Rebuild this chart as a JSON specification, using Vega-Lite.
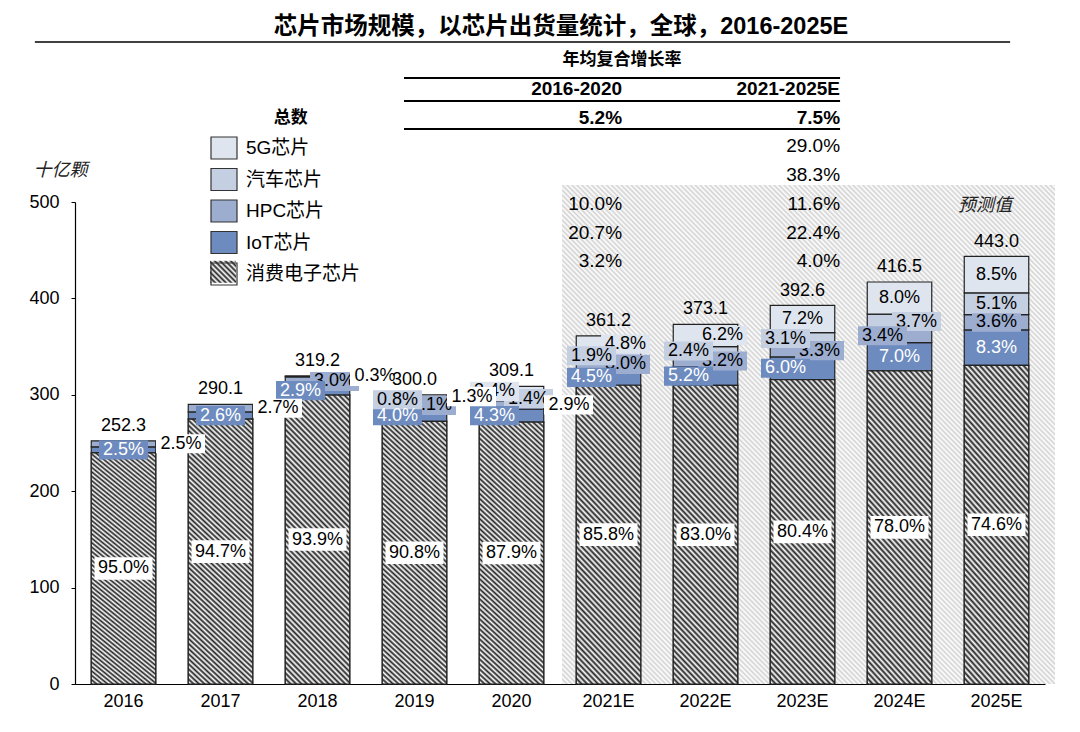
{
"$schema":"https://vega.github.io/schema/vega-lite/v6.json",
"width":970,"height":482,
"autosize":{"type":"none"},
"padding":{"left":75,"top":202,"right":35,"bottom":48},
"background":"#ffffff",
"config":{"view":{"stroke":null},"text":{"font":"Liberation Sans, Noto Sans CJK SC"},"axis":{"labelFont":"Liberation Sans"}},
"datasets":{
"bars":[
{"year":"2016","cat":"消费电子芯片","k":1,"v":239.7,"p":0.95},
{"year":"2016","cat":"IoT芯片","k":2,"v":6.3,"p":0.025},
{"year":"2016","cat":"HPC芯片","k":3,"v":6.3,"p":0.025},
{"year":"2017","cat":"消费电子芯片","k":1,"v":274.7,"p":0.947},
{"year":"2017","cat":"IoT芯片","k":2,"v":7.5,"p":0.026},
{"year":"2017","cat":"HPC芯片","k":3,"v":7.8,"p":0.027},
{"year":"2018","cat":"消费电子芯片","k":1,"v":299.7,"p":0.939},
{"year":"2018","cat":"IoT芯片","k":2,"v":9.3,"p":0.029},
{"year":"2018","cat":"HPC芯片","k":3,"v":9.6,"p":0.03},
{"year":"2018","cat":"汽车芯片","k":4,"v":1.0,"p":0.003},
{"year":"2019","cat":"消费电子芯片","k":1,"v":272.4,"p":0.908},
{"year":"2019","cat":"IoT芯片","k":2,"v":12.0,"p":0.04},
{"year":"2019","cat":"HPC芯片","k":3,"v":9.3,"p":0.031},
{"year":"2019","cat":"汽车芯片","k":4,"v":2.4,"p":0.008},
{"year":"2019","cat":"5G芯片","k":5,"v":3.9,"p":0.013},
{"year":"2020","cat":"消费电子芯片","k":1,"v":271.7,"p":0.879},
{"year":"2020","cat":"IoT芯片","k":2,"v":13.3,"p":0.043},
{"year":"2020","cat":"HPC芯片","k":3,"v":9.0,"p":0.029},
{"year":"2020","cat":"汽车芯片","k":4,"v":4.3,"p":0.014},
{"year":"2020","cat":"5G芯片","k":5,"v":10.5,"p":0.034},
{"year":"2021E","cat":"消费电子芯片","k":1,"v":309.9,"p":0.858},
{"year":"2021E","cat":"IoT芯片","k":2,"v":16.3,"p":0.045},
{"year":"2021E","cat":"HPC芯片","k":3,"v":10.8,"p":0.03},
{"year":"2021E","cat":"汽车芯片","k":4,"v":6.9,"p":0.019},
{"year":"2021E","cat":"5G芯片","k":5,"v":17.3,"p":0.048},
{"year":"2022E","cat":"消费电子芯片","k":1,"v":309.7,"p":0.83},
{"year":"2022E","cat":"IoT芯片","k":2,"v":19.4,"p":0.052},
{"year":"2022E","cat":"HPC芯片","k":3,"v":11.9,"p":0.032},
{"year":"2022E","cat":"汽车芯片","k":4,"v":9.0,"p":0.024},
{"year":"2022E","cat":"5G芯片","k":5,"v":23.1,"p":0.062},
{"year":"2023E","cat":"消费电子芯片","k":1,"v":315.7,"p":0.804},
{"year":"2023E","cat":"IoT芯片","k":2,"v":23.6,"p":0.06},
{"year":"2023E","cat":"HPC芯片","k":3,"v":13.0,"p":0.033},
{"year":"2023E","cat":"汽车芯片","k":4,"v":12.2,"p":0.031},
{"year":"2023E","cat":"5G芯片","k":5,"v":28.3,"p":0.072},
{"year":"2024E","cat":"消费电子芯片","k":1,"v":324.9,"p":0.78},
{"year":"2024E","cat":"IoT芯片","k":2,"v":29.2,"p":0.07},
{"year":"2024E","cat":"HPC芯片","k":3,"v":14.2,"p":0.034},
{"year":"2024E","cat":"汽车芯片","k":4,"v":15.4,"p":0.037},
{"year":"2024E","cat":"5G芯片","k":5,"v":33.3,"p":0.08},
{"year":"2025E","cat":"消费电子芯片","k":1,"v":330.5,"p":0.746},
{"year":"2025E","cat":"IoT芯片","k":2,"v":36.8,"p":0.083},
{"year":"2025E","cat":"HPC芯片","k":3,"v":15.9,"p":0.036},
{"year":"2025E","cat":"汽车芯片","k":4,"v":22.6,"p":0.051},
{"year":"2025E","cat":"5G芯片","k":5,"v":37.7,"p":0.085}
],
"totals":[
{"year":"2016","total":252.3},{"year":"2017","total":290.1},{"year":"2018","total":319.2},{"year":"2019","total":300.0},{"year":"2020","total":309.1},
{"year":"2021E","total":361.2},{"year":"2022E","total":373.1},{"year":"2023E","total":392.6},{"year":"2024E","total":416.5},{"year":"2025E","total":443.0}
],
"table":[
{"row":1,"col":1,"text":"2016-2020"},
{"row":1,"col":2,"text":"2021-2025E"},
{"row":2,"col":1,"text":"5.2%"},
{"row":2,"col":2,"text":"7.5%"},
{"row":3,"col":2,"text":"29.0%"},
{"row":4,"col":2,"text":"38.3%"},
{"row":5,"col":1,"text":"10.0%"},
{"row":5,"col":2,"text":"11.6%"},
{"row":6,"col":1,"text":"20.7%"},
{"row":6,"col":2,"text":"22.4%"},
{"row":7,"col":1,"text":"3.2%"},
{"row":7,"col":2,"text":"4.0%"}
]
},
"resolve":{"scale":{"x":"independent","y":"independent"}},
"layer":[
{
"layer":[
{"data":{"values":[{}]},
"mark":{"type":"rect","fill":{"gradient":"linear","x1":0,"y1":1,"x2":1,"y2":0,"stops":[
{"offset":0,"color":"#d2d2d2"},{"offset":0.0025,"color":"#fff"},{"offset":0.005,"color":"#d2d2d2"},{"offset":0.0075,"color":"#fff"},
{"offset":0.01,"color":"#d2d2d2"},{"offset":0.0125,"color":"#fff"},{"offset":0.015,"color":"#d2d2d2"},{"offset":0.0175,"color":"#fff"},
{"offset":0.02,"color":"#d2d2d2"},{"offset":0.0225,"color":"#fff"},{"offset":0.025,"color":"#d2d2d2"},{"offset":0.0275,"color":"#fff"},
{"offset":0.03,"color":"#d2d2d2"},{"offset":0.0325,"color":"#fff"},{"offset":0.035,"color":"#d2d2d2"},{"offset":0.0375,"color":"#fff"},
{"offset":0.04,"color":"#d2d2d2"},{"offset":0.0425,"color":"#fff"},{"offset":0.045,"color":"#d2d2d2"},{"offset":0.0475,"color":"#fff"},
{"offset":0.05,"color":"#d2d2d2"},{"offset":0.0525,"color":"#fff"},{"offset":0.055,"color":"#d2d2d2"},{"offset":0.0575,"color":"#fff"},
{"offset":0.06,"color":"#d2d2d2"},{"offset":0.0625,"color":"#fff"},{"offset":0.065,"color":"#d2d2d2"},{"offset":0.0675,"color":"#fff"},
{"offset":0.07,"color":"#d2d2d2"},{"offset":0.0725,"color":"#fff"},{"offset":0.075,"color":"#d2d2d2"},{"offset":0.0775,"color":"#fff"},
{"offset":0.08,"color":"#d2d2d2"},{"offset":0.0825,"color":"#fff"},{"offset":0.085,"color":"#d2d2d2"},{"offset":0.0875,"color":"#fff"},
{"offset":0.09,"color":"#d2d2d2"},{"offset":0.0925,"color":"#fff"},{"offset":0.095,"color":"#d2d2d2"},{"offset":0.0975,"color":"#fff"},
{"offset":0.1,"color":"#d2d2d2"},{"offset":0.1025,"color":"#fff"},{"offset":0.105,"color":"#d2d2d2"},{"offset":0.1075,"color":"#fff"},
{"offset":0.11,"color":"#d2d2d2"},{"offset":0.1125,"color":"#fff"},{"offset":0.115,"color":"#d2d2d2"},{"offset":0.1175,"color":"#fff"},
{"offset":0.12,"color":"#d2d2d2"},{"offset":0.1225,"color":"#fff"},{"offset":0.125,"color":"#d2d2d2"},{"offset":0.1275,"color":"#fff"},
{"offset":0.13,"color":"#d2d2d2"},{"offset":0.1325,"color":"#fff"},{"offset":0.135,"color":"#d2d2d2"},{"offset":0.1375,"color":"#fff"},
{"offset":0.14,"color":"#d2d2d2"},{"offset":0.1425,"color":"#fff"},{"offset":0.145,"color":"#d2d2d2"},{"offset":0.1475,"color":"#fff"},
{"offset":0.15,"color":"#d2d2d2"},{"offset":0.1525,"color":"#fff"},{"offset":0.155,"color":"#d2d2d2"},{"offset":0.1575,"color":"#fff"},
{"offset":0.16,"color":"#d2d2d2"},{"offset":0.1625,"color":"#fff"},{"offset":0.165,"color":"#d2d2d2"},{"offset":0.1675,"color":"#fff"},
{"offset":0.17,"color":"#d2d2d2"},{"offset":0.1725,"color":"#fff"},{"offset":0.175,"color":"#d2d2d2"},{"offset":0.1775,"color":"#fff"},
{"offset":0.18,"color":"#d2d2d2"},{"offset":0.1825,"color":"#fff"},{"offset":0.185,"color":"#d2d2d2"},{"offset":0.1875,"color":"#fff"},
{"offset":0.19,"color":"#d2d2d2"},{"offset":0.1925,"color":"#fff"},{"offset":0.195,"color":"#d2d2d2"},{"offset":0.1975,"color":"#fff"},
{"offset":0.2,"color":"#d2d2d2"},{"offset":0.2025,"color":"#fff"},{"offset":0.205,"color":"#d2d2d2"},{"offset":0.2075,"color":"#fff"},
{"offset":0.21,"color":"#d2d2d2"},{"offset":0.2125,"color":"#fff"},{"offset":0.215,"color":"#d2d2d2"},{"offset":0.2175,"color":"#fff"},
{"offset":0.22,"color":"#d2d2d2"},{"offset":0.2225,"color":"#fff"},{"offset":0.225,"color":"#d2d2d2"},{"offset":0.2275,"color":"#fff"},
{"offset":0.23,"color":"#d2d2d2"},{"offset":0.2325,"color":"#fff"},{"offset":0.235,"color":"#d2d2d2"},{"offset":0.2375,"color":"#fff"},
{"offset":0.24,"color":"#d2d2d2"},{"offset":0.2425,"color":"#fff"},{"offset":0.245,"color":"#d2d2d2"},{"offset":0.2475,"color":"#fff"},
{"offset":0.25,"color":"#d2d2d2"},{"offset":0.2525,"color":"#fff"},{"offset":0.255,"color":"#d2d2d2"},{"offset":0.2575,"color":"#fff"},
{"offset":0.26,"color":"#d2d2d2"},{"offset":0.2625,"color":"#fff"},{"offset":0.265,"color":"#d2d2d2"},{"offset":0.2675,"color":"#fff"},
{"offset":0.27,"color":"#d2d2d2"},{"offset":0.2725,"color":"#fff"},{"offset":0.275,"color":"#d2d2d2"},{"offset":0.2775,"color":"#fff"},
{"offset":0.28,"color":"#d2d2d2"},{"offset":0.2825,"color":"#fff"},{"offset":0.285,"color":"#d2d2d2"},{"offset":0.2875,"color":"#fff"},
{"offset":0.29,"color":"#d2d2d2"},{"offset":0.2925,"color":"#fff"},{"offset":0.295,"color":"#d2d2d2"},{"offset":0.2975,"color":"#fff"},
{"offset":0.3,"color":"#d2d2d2"},{"offset":0.3025,"color":"#fff"},{"offset":0.305,"color":"#d2d2d2"},{"offset":0.3075,"color":"#fff"},
{"offset":0.31,"color":"#d2d2d2"},{"offset":0.3125,"color":"#fff"},{"offset":0.315,"color":"#d2d2d2"},{"offset":0.3175,"color":"#fff"},
{"offset":0.32,"color":"#d2d2d2"},{"offset":0.3225,"color":"#fff"},{"offset":0.325,"color":"#d2d2d2"},{"offset":0.3275,"color":"#fff"},
{"offset":0.33,"color":"#d2d2d2"},{"offset":0.3325,"color":"#fff"},{"offset":0.335,"color":"#d2d2d2"},{"offset":0.3375,"color":"#fff"},
{"offset":0.34,"color":"#d2d2d2"},{"offset":0.3425,"color":"#fff"},{"offset":0.345,"color":"#d2d2d2"},{"offset":0.3475,"color":"#fff"},
{"offset":0.35,"color":"#d2d2d2"},{"offset":0.3525,"color":"#fff"},{"offset":0.355,"color":"#d2d2d2"},{"offset":0.3575,"color":"#fff"},
{"offset":0.36,"color":"#d2d2d2"},{"offset":0.3625,"color":"#fff"},{"offset":0.365,"color":"#d2d2d2"},{"offset":0.3675,"color":"#fff"},
{"offset":0.37,"color":"#d2d2d2"},{"offset":0.3725,"color":"#fff"},{"offset":0.375,"color":"#d2d2d2"},{"offset":0.3775,"color":"#fff"},
{"offset":0.38,"color":"#d2d2d2"},{"offset":0.3825,"color":"#fff"},{"offset":0.385,"color":"#d2d2d2"},{"offset":0.3875,"color":"#fff"},
{"offset":0.39,"color":"#d2d2d2"},{"offset":0.3925,"color":"#fff"},{"offset":0.395,"color":"#d2d2d2"},{"offset":0.3975,"color":"#fff"},
{"offset":0.4,"color":"#d2d2d2"},{"offset":0.4025,"color":"#fff"},{"offset":0.405,"color":"#d2d2d2"},{"offset":0.4075,"color":"#fff"},
{"offset":0.41,"color":"#d2d2d2"},{"offset":0.4125,"color":"#fff"},{"offset":0.415,"color":"#d2d2d2"},{"offset":0.4175,"color":"#fff"},
{"offset":0.42,"color":"#d2d2d2"},{"offset":0.4225,"color":"#fff"},{"offset":0.425,"color":"#d2d2d2"},{"offset":0.4275,"color":"#fff"},
{"offset":0.43,"color":"#d2d2d2"},{"offset":0.4325,"color":"#fff"},{"offset":0.435,"color":"#d2d2d2"},{"offset":0.4375,"color":"#fff"},
{"offset":0.44,"color":"#d2d2d2"},{"offset":0.4425,"color":"#fff"},{"offset":0.445,"color":"#d2d2d2"},{"offset":0.4475,"color":"#fff"},
{"offset":0.45,"color":"#d2d2d2"},{"offset":0.4525,"color":"#fff"},{"offset":0.455,"color":"#d2d2d2"},{"offset":0.4575,"color":"#fff"},
{"offset":0.46,"color":"#d2d2d2"},{"offset":0.4625,"color":"#fff"},{"offset":0.465,"color":"#d2d2d2"},{"offset":0.4675,"color":"#fff"},
{"offset":0.47,"color":"#d2d2d2"},{"offset":0.4725,"color":"#fff"},{"offset":0.475,"color":"#d2d2d2"},{"offset":0.4775,"color":"#fff"},
{"offset":0.48,"color":"#d2d2d2"},{"offset":0.4825,"color":"#fff"},{"offset":0.485,"color":"#d2d2d2"},{"offset":0.4875,"color":"#fff"},
{"offset":0.49,"color":"#d2d2d2"},{"offset":0.4925,"color":"#fff"},{"offset":0.495,"color":"#d2d2d2"},{"offset":0.4975,"color":"#fff"},
{"offset":0.5,"color":"#d2d2d2"},{"offset":0.5025,"color":"#fff"},{"offset":0.505,"color":"#d2d2d2"},{"offset":0.5075,"color":"#fff"},
{"offset":0.51,"color":"#d2d2d2"},{"offset":0.5125,"color":"#fff"},{"offset":0.515,"color":"#d2d2d2"},{"offset":0.5175,"color":"#fff"},
{"offset":0.52,"color":"#d2d2d2"},{"offset":0.5225,"color":"#fff"},{"offset":0.525,"color":"#d2d2d2"},{"offset":0.5275,"color":"#fff"},
{"offset":0.53,"color":"#d2d2d2"},{"offset":0.5325,"color":"#fff"},{"offset":0.535,"color":"#d2d2d2"},{"offset":0.5375,"color":"#fff"},
{"offset":0.54,"color":"#d2d2d2"},{"offset":0.5425,"color":"#fff"},{"offset":0.545,"color":"#d2d2d2"},{"offset":0.5475,"color":"#fff"},
{"offset":0.55,"color":"#d2d2d2"},{"offset":0.5525,"color":"#fff"},{"offset":0.555,"color":"#d2d2d2"},{"offset":0.5575,"color":"#fff"},
{"offset":0.56,"color":"#d2d2d2"},{"offset":0.5625,"color":"#fff"},{"offset":0.565,"color":"#d2d2d2"},{"offset":0.5675,"color":"#fff"},
{"offset":0.57,"color":"#d2d2d2"},{"offset":0.5725,"color":"#fff"},{"offset":0.575,"color":"#d2d2d2"},{"offset":0.5775,"color":"#fff"},
{"offset":0.58,"color":"#d2d2d2"},{"offset":0.5825,"color":"#fff"},{"offset":0.585,"color":"#d2d2d2"},{"offset":0.5875,"color":"#fff"},
{"offset":0.59,"color":"#d2d2d2"},{"offset":0.5925,"color":"#fff"},{"offset":0.595,"color":"#d2d2d2"},{"offset":0.5975,"color":"#fff"},
{"offset":0.6,"color":"#d2d2d2"},{"offset":0.6025,"color":"#fff"},{"offset":0.605,"color":"#d2d2d2"},{"offset":0.6075,"color":"#fff"},
{"offset":0.61,"color":"#d2d2d2"},{"offset":0.6125,"color":"#fff"},{"offset":0.615,"color":"#d2d2d2"},{"offset":0.6175,"color":"#fff"},
{"offset":0.62,"color":"#d2d2d2"},{"offset":0.6225,"color":"#fff"},{"offset":0.625,"color":"#d2d2d2"},{"offset":0.6275,"color":"#fff"},
{"offset":0.63,"color":"#d2d2d2"},{"offset":0.6325,"color":"#fff"},{"offset":0.635,"color":"#d2d2d2"},{"offset":0.6375,"color":"#fff"},
{"offset":0.64,"color":"#d2d2d2"},{"offset":0.6425,"color":"#fff"},{"offset":0.645,"color":"#d2d2d2"},{"offset":0.6475,"color":"#fff"},
{"offset":0.65,"color":"#d2d2d2"},{"offset":0.6525,"color":"#fff"},{"offset":0.655,"color":"#d2d2d2"},{"offset":0.6575,"color":"#fff"},
{"offset":0.66,"color":"#d2d2d2"},{"offset":0.6625,"color":"#fff"},{"offset":0.665,"color":"#d2d2d2"},{"offset":0.6675,"color":"#fff"},
{"offset":0.67,"color":"#d2d2d2"},{"offset":0.6725,"color":"#fff"},{"offset":0.675,"color":"#d2d2d2"},{"offset":0.6775,"color":"#fff"},
{"offset":0.68,"color":"#d2d2d2"},{"offset":0.6825,"color":"#fff"},{"offset":0.685,"color":"#d2d2d2"},{"offset":0.6875,"color":"#fff"},
{"offset":0.69,"color":"#d2d2d2"},{"offset":0.6925,"color":"#fff"},{"offset":0.695,"color":"#d2d2d2"},{"offset":0.6975,"color":"#fff"},
{"offset":0.7,"color":"#d2d2d2"},{"offset":0.7025,"color":"#fff"},{"offset":0.705,"color":"#d2d2d2"},{"offset":0.7075,"color":"#fff"},
{"offset":0.71,"color":"#d2d2d2"},{"offset":0.7125,"color":"#fff"},{"offset":0.715,"color":"#d2d2d2"},{"offset":0.7175,"color":"#fff"},
{"offset":0.72,"color":"#d2d2d2"},{"offset":0.7225,"color":"#fff"},{"offset":0.725,"color":"#d2d2d2"},{"offset":0.7275,"color":"#fff"},
{"offset":0.73,"color":"#d2d2d2"},{"offset":0.7325,"color":"#fff"},{"offset":0.735,"color":"#d2d2d2"},{"offset":0.7375,"color":"#fff"},
{"offset":0.74,"color":"#d2d2d2"},{"offset":0.7425,"color":"#fff"},{"offset":0.745,"color":"#d2d2d2"},{"offset":0.7475,"color":"#fff"},
{"offset":0.75,"color":"#d2d2d2"},{"offset":0.7525,"color":"#fff"},{"offset":0.755,"color":"#d2d2d2"},{"offset":0.7575,"color":"#fff"},
{"offset":0.76,"color":"#d2d2d2"},{"offset":0.7625,"color":"#fff"},{"offset":0.765,"color":"#d2d2d2"},{"offset":0.7675,"color":"#fff"},
{"offset":0.77,"color":"#d2d2d2"},{"offset":0.7725,"color":"#fff"},{"offset":0.775,"color":"#d2d2d2"},{"offset":0.7775,"color":"#fff"},
{"offset":0.78,"color":"#d2d2d2"},{"offset":0.7825,"color":"#fff"},{"offset":0.785,"color":"#d2d2d2"},{"offset":0.7875,"color":"#fff"},
{"offset":0.79,"color":"#d2d2d2"},{"offset":0.7925,"color":"#fff"},{"offset":0.795,"color":"#d2d2d2"},{"offset":0.7975,"color":"#fff"},
{"offset":0.8,"color":"#d2d2d2"},{"offset":0.8025,"color":"#fff"},{"offset":0.805,"color":"#d2d2d2"},{"offset":0.8075,"color":"#fff"},
{"offset":0.81,"color":"#d2d2d2"},{"offset":0.8125,"color":"#fff"},{"offset":0.815,"color":"#d2d2d2"},{"offset":0.8175,"color":"#fff"},
{"offset":0.82,"color":"#d2d2d2"},{"offset":0.8225,"color":"#fff"},{"offset":0.825,"color":"#d2d2d2"},{"offset":0.8275,"color":"#fff"},
{"offset":0.83,"color":"#d2d2d2"},{"offset":0.8325,"color":"#fff"},{"offset":0.835,"color":"#d2d2d2"},{"offset":0.8375,"color":"#fff"},
{"offset":0.84,"color":"#d2d2d2"},{"offset":0.8425,"color":"#fff"},{"offset":0.845,"color":"#d2d2d2"},{"offset":0.8475,"color":"#fff"},
{"offset":0.85,"color":"#d2d2d2"},{"offset":0.8525,"color":"#fff"},{"offset":0.855,"color":"#d2d2d2"},{"offset":0.8575,"color":"#fff"},
{"offset":0.86,"color":"#d2d2d2"},{"offset":0.8625,"color":"#fff"},{"offset":0.865,"color":"#d2d2d2"},{"offset":0.8675,"color":"#fff"},
{"offset":0.87,"color":"#d2d2d2"},{"offset":0.8725,"color":"#fff"},{"offset":0.875,"color":"#d2d2d2"},{"offset":0.8775,"color":"#fff"},
{"offset":0.88,"color":"#d2d2d2"},{"offset":0.8825,"color":"#fff"},{"offset":0.885,"color":"#d2d2d2"},{"offset":0.8875,"color":"#fff"},
{"offset":0.89,"color":"#d2d2d2"},{"offset":0.8925,"color":"#fff"},{"offset":0.895,"color":"#d2d2d2"},{"offset":0.8975,"color":"#fff"},
{"offset":0.9,"color":"#d2d2d2"},{"offset":0.9025,"color":"#fff"},{"offset":0.905,"color":"#d2d2d2"},{"offset":0.9075,"color":"#fff"},
{"offset":0.91,"color":"#d2d2d2"},{"offset":0.9125,"color":"#fff"},{"offset":0.915,"color":"#d2d2d2"},{"offset":0.9175,"color":"#fff"},
{"offset":0.92,"color":"#d2d2d2"},{"offset":0.9225,"color":"#fff"},{"offset":0.925,"color":"#d2d2d2"},{"offset":0.9275,"color":"#fff"},
{"offset":0.93,"color":"#d2d2d2"},{"offset":0.9325,"color":"#fff"},{"offset":0.935,"color":"#d2d2d2"},{"offset":0.9375,"color":"#fff"},
{"offset":0.94,"color":"#d2d2d2"},{"offset":0.9425,"color":"#fff"},{"offset":0.945,"color":"#d2d2d2"},{"offset":0.9475,"color":"#fff"},
{"offset":0.95,"color":"#d2d2d2"},{"offset":0.9525,"color":"#fff"},{"offset":0.955,"color":"#d2d2d2"},{"offset":0.9575,"color":"#fff"},
{"offset":0.96,"color":"#d2d2d2"},{"offset":0.9625,"color":"#fff"},{"offset":0.965,"color":"#d2d2d2"},{"offset":0.9675,"color":"#fff"},
{"offset":0.97,"color":"#d2d2d2"},{"offset":0.9725,"color":"#fff"},{"offset":0.975,"color":"#d2d2d2"},{"offset":0.9775,"color":"#fff"},
{"offset":0.98,"color":"#d2d2d2"},{"offset":0.9825,"color":"#fff"},{"offset":0.985,"color":"#d2d2d2"},{"offset":0.9875,"color":"#fff"},
{"offset":0.99,"color":"#d2d2d2"},{"offset":0.9925,"color":"#fff"},{"offset":0.995,"color":"#d2d2d2"},{"offset":0.9975,"color":"#fff"},
{"offset":1,"color":"#d2d2d2"}]}},
"encoding":{"x":{"datum":0.725,"type":"quantitative","scale":{"domain":[-1.509,2.94],"nice":false,"zero":false},"axis":null},"x2":{"datum":2.986},
"y":{"datum":4.345,"type":"quantitative","scale":{"domain":[4.937,21.731],"nice":false,"zero":false,"reverse":true},"axis":null},"y2":{"datum":21.731}}},
{"data":{"values":[{}]},
"mark":{"type":"rect","fill":{"gradient":"linear","x1":0,"y1":1,"x2":1.076,"y2":0.09,"stops":[{"offset":0,"color":"#222"},{"offset":0.0556,"color":"#fff"},{"offset":0.1111,"color":"#222"},{"offset":0.1667,"color":"#fff"},{"offset":0.2222,"color":"#222"},{"offset":0.2778,"color":"#fff"},{"offset":0.3333,"color":"#222"},{"offset":0.3889,"color":"#fff"},{"offset":0.4444,"color":"#222"},{"offset":0.5,"color":"#fff"},{"offset":0.5556,"color":"#222"},{"offset":0.6111,"color":"#fff"},{"offset":0.6667,"color":"#222"},{"offset":0.7222,"color":"#fff"},{"offset":0.7778,"color":"#222"},{"offset":0.8333,"color":"#fff"},{"offset":0.8889,"color":"#222"},{"offset":0.9444,"color":"#fff"},{"offset":1,"color":"#222"}]}},
"encoding":{"x":{"datum":-0.8899,"type":"quantitative","scale":{"domain":[-1.509,2.94],"nice":false,"zero":false},"axis":null},"x2":{"datum":-0.7706},
"y":{"datum":6.986,"type":"quantitative","scale":{"domain":[4.937,21.731],"nice":false,"zero":false,"reverse":true},"axis":null},"y2":{"datum":7.753}}},
{"data":{"values":[{}]},
"mark":{"type":"text","font":"Liberation Sans, Noto Sans CJK SC","fontSize":23.5,"fontWeight":"bold","align":"center","baseline":"middle","color":"#000"},
"encoding":{"x":{"datum":0.72,"type":"quantitative","scale":{"domain":[-1.509,2.94],"nice":false,"zero":false},"axis":null},
"y":{"datum":-1.16,"type":"quantitative","scale":{"domain":[4.937,21.731],"nice":false,"zero":false,"reverse":true},"axis":null},
"text":{"value":"芯片市场规模，以芯片出货量统计，全球，2016-2025E"}}},
{"data":{"values":[{}]},
"mark":{"type":"rule","color":"#000","strokeWidth":1.5},
"encoding":{"x":{"datum":-1.693,"type":"quantitative","scale":{"domain":[-1.509,2.94],"nice":false,"zero":false},"axis":null},"x2":{"datum":2.78},
"y":{"datum":-0.638,"type":"quantitative","scale":{"domain":[4.937,21.731],"nice":false,"zero":false,"reverse":true},"axis":null}}},
{"data":{"values":[{}]},
"mark":{"type":"rule","color":"#000","strokeWidth":2},
"encoding":{"x":{"datum":0,"type":"quantitative","scale":{"domain":[-1.509,2.94],"nice":false,"zero":false},"axis":null},"x2":{"datum":2},
"y":{"datum":0.617,"type":"quantitative","scale":{"domain":[4.937,21.731],"nice":false,"zero":false,"reverse":true},"axis":null}}},
{"data":{"values":[{}]},
"mark":{"type":"rule","color":"#000","strokeWidth":2},
"encoding":{"x":{"datum":0,"type":"quantitative","scale":{"domain":[-1.509,2.94],"nice":false,"zero":false},"axis":null},"x2":{"datum":2},
"y":{"datum":1.418,"type":"quantitative","scale":{"domain":[4.937,21.731],"nice":false,"zero":false,"reverse":true},"axis":null}}},
{"data":{"values":[{}]},
"mark":{"type":"rule","color":"#000","strokeWidth":2},
"encoding":{"x":{"datum":0,"type":"quantitative","scale":{"domain":[-1.509,2.94],"nice":false,"zero":false},"axis":null},"x2":{"datum":2},
"y":{"datum":2.394,"type":"quantitative","scale":{"domain":[4.937,21.731],"nice":false,"zero":false,"reverse":true},"axis":null}}},
{"data":{"values":[{}]},
"mark":{"type":"text","font":"Noto Sans CJK SC","fontSize":17,"fontWeight":"bold","align":"center","baseline":"middle","color":"#000"},
"encoding":{"x":{"datum":1,"type":"quantitative","scale":{"domain":[-1.509,2.94],"nice":false,"zero":false},"axis":null},
"y":{"datum":0,"type":"quantitative","scale":{"domain":[4.937,21.731],"nice":false,"zero":false,"reverse":true},"axis":null},
"text":{"value":"年均复合增长率"}}},
{"data":{"values":[{}]},
"mark":{"type":"text","font":"Noto Sans CJK SC","fontSize":17,"fontWeight":"bold","align":"center","baseline":"middle","color":"#000"},
"encoding":{"x":{"datum":-0.52,"type":"quantitative","scale":{"domain":[-1.509,2.94],"nice":false,"zero":false},"axis":null},
"y":{"datum":2,"type":"quantitative","scale":{"domain":[4.937,21.731],"nice":false,"zero":false,"reverse":true},"axis":null},
"text":{"value":"总数"}}},
{"data":{"name":"table"},"transform":[{"filter":"datum.row <= 2"}],
"mark":{"type":"text","font":"Liberation Sans","fontSize":19,"fontWeight":"bold","align":"right","baseline":"middle","color":"#000"},
"encoding":{"x":{"field":"col","type":"quantitative","scale":{"domain":[-1.509,2.94],"nice":false,"zero":false},"axis":null},
"y":{"field":"row","type":"quantitative","scale":{"domain":[4.937,21.731],"nice":false,"zero":false,"reverse":true},"axis":null},
"text":{"field":"text"}}},
{"data":{"name":"table"},"transform":[{"filter":"datum.row > 2"}],
"mark":{"type":"text","font":"Liberation Sans","fontSize":19,"align":"right","baseline":"middle","color":"#000"},
"encoding":{"x":{"field":"col","type":"quantitative","scale":{"domain":[-1.509,2.94],"nice":false,"zero":false},"axis":null},
"y":{"field":"row","type":"quantitative","scale":{"domain":[4.937,21.731],"nice":false,"zero":false,"reverse":true},"axis":null},
"text":{"field":"text"}}},
{"data":{"values":[{}]},
"mark":{"type":"text","font":"Noto Sans CJK SC","fontSize":18,"fontStyle":"italic","align":"center","baseline":"middle","color":"#222"},
"encoding":{"x":{"datum":2.665,"type":"quantitative","scale":{"domain":[-1.509,2.94],"nice":false,"zero":false},"axis":null},
"y":{"datum":5.077,"type":"quantitative","scale":{"domain":[4.937,21.731],"nice":false,"zero":false,"reverse":true},"axis":null},
"text":{"value":"预测值"}}}
]
},
{
"data":{"name":"bars"},
"layer":[
{"mark":{"type":"bar","stroke":"#222","strokeWidth":1.2},
"encoding":{
"x":{"field":"year","type":"nominal","scale":{"paddingInner":0.335,"paddingOuter":0.1675},
"axis":{"title":null,"labelAngle":0,"labelFontSize":18,"labelColor":"#000","ticks":false,"tickSize":0,"labelPadding":8,"domainColor":"#000","domainWidth":1.2}},
"y":{"field":"v","type":"quantitative","stack":"zero","scale":{"domain":[0,500],"nice":false},
"axis":{"values":[0,100,200,300,400,500],"title":"十亿颗","titleAngle":0,"titleX":-15,"titleY":-32,"titleAlign":"center","titleBaseline":"middle","titleFont":"Noto Sans CJK SC","titleFontSize":18,"titleFontStyle":"italic","titleFontWeight":"normal","titleColor":"#222","labelFontSize":18,"labelColor":"#000","labelPadding":12,"tickColor":"#000","tickSize":4,"domainColor":"#000","domainWidth":1.2,"grid":false}},
"fill":{"field":"cat","type":"nominal",
"scale":{"domain":["5G芯片","汽车芯片","HPC芯片","IoT芯片","消费电子芯片"],"range":["#dfe5ef","#c5cfe2","#9cadd0","#6d8bbf","transparent"]},
"legend":{"orient":"none","legendX":135,"legendY":-68,"title":null,"padding":0,"symbolType":"M-1,-0.846H1V0.846H-1Z","symbolSize":676,"symbolStrokeColor":"#333","symbolStrokeWidth":1.2,"labelFont":"Liberation Sans, Noto Sans CJK SC","labelFontSize":19,"labelColor":"#000","labelOffset":8,"rowPadding":3.5}},
"order":{"field":"k","type":"quantitative"}}},
{"transform":[{"filter":"datum.k === 1"}],
"mark":{"type":"bar","stroke":"#222","strokeWidth":1.2,"fill":{"gradient":"linear","x1":0,"y1":1,"x2":0.264,"y2":-0.1665,"stops":[
{"offset":0,"color":"#222"},{"offset":0.0078,"color":"#fff"},{"offset":0.0156,"color":"#222"},{"offset":0.0234,"color":"#fff"},{"offset":0.0313,"color":"#222"},{"offset":0.0391,"color":"#fff"},{"offset":0.0469,"color":"#222"},{"offset":0.0547,"color":"#fff"},
{"offset":0.0625,"color":"#222"},{"offset":0.0703,"color":"#fff"},{"offset":0.0781,"color":"#222"},{"offset":0.0859,"color":"#fff"},{"offset":0.0938,"color":"#222"},{"offset":0.1016,"color":"#fff"},{"offset":0.1094,"color":"#222"},{"offset":0.1172,"color":"#fff"},
{"offset":0.125,"color":"#222"},{"offset":0.1328,"color":"#fff"},{"offset":0.1406,"color":"#222"},{"offset":0.1484,"color":"#fff"},{"offset":0.1563,"color":"#222"},{"offset":0.1641,"color":"#fff"},{"offset":0.1719,"color":"#222"},{"offset":0.1797,"color":"#fff"},
{"offset":0.1875,"color":"#222"},{"offset":0.1953,"color":"#fff"},{"offset":0.2031,"color":"#222"},{"offset":0.2109,"color":"#fff"},{"offset":0.2188,"color":"#222"},{"offset":0.2266,"color":"#fff"},{"offset":0.2344,"color":"#222"},{"offset":0.2422,"color":"#fff"},
{"offset":0.25,"color":"#222"},{"offset":0.2578,"color":"#fff"},{"offset":0.2656,"color":"#222"},{"offset":0.2734,"color":"#fff"},{"offset":0.2813,"color":"#222"},{"offset":0.2891,"color":"#fff"},{"offset":0.2969,"color":"#222"},{"offset":0.3047,"color":"#fff"},
{"offset":0.3125,"color":"#222"},{"offset":0.3203,"color":"#fff"},{"offset":0.3281,"color":"#222"},{"offset":0.3359,"color":"#fff"},{"offset":0.3438,"color":"#222"},{"offset":0.3516,"color":"#fff"},{"offset":0.3594,"color":"#222"},{"offset":0.3672,"color":"#fff"},
{"offset":0.375,"color":"#222"},{"offset":0.3828,"color":"#fff"},{"offset":0.3906,"color":"#222"},{"offset":0.3984,"color":"#fff"},{"offset":0.4063,"color":"#222"},{"offset":0.4141,"color":"#fff"},{"offset":0.4219,"color":"#222"},{"offset":0.4297,"color":"#fff"},
{"offset":0.4375,"color":"#222"},{"offset":0.4453,"color":"#fff"},{"offset":0.4531,"color":"#222"},{"offset":0.4609,"color":"#fff"},{"offset":0.4688,"color":"#222"},{"offset":0.4766,"color":"#fff"},{"offset":0.4844,"color":"#222"},{"offset":0.4922,"color":"#fff"},
{"offset":0.5,"color":"#222"},{"offset":0.5078,"color":"#fff"},{"offset":0.5156,"color":"#222"},{"offset":0.5234,"color":"#fff"},{"offset":0.5313,"color":"#222"},{"offset":0.5391,"color":"#fff"},{"offset":0.5469,"color":"#222"},{"offset":0.5547,"color":"#fff"},
{"offset":0.5625,"color":"#222"},{"offset":0.5703,"color":"#fff"},{"offset":0.5781,"color":"#222"},{"offset":0.5859,"color":"#fff"},{"offset":0.5938,"color":"#222"},{"offset":0.6016,"color":"#fff"},{"offset":0.6094,"color":"#222"},{"offset":0.6172,"color":"#fff"},
{"offset":0.625,"color":"#222"},{"offset":0.6328,"color":"#fff"},{"offset":0.6406,"color":"#222"},{"offset":0.6484,"color":"#fff"},{"offset":0.6563,"color":"#222"},{"offset":0.6641,"color":"#fff"},{"offset":0.6719,"color":"#222"},{"offset":0.6797,"color":"#fff"},
{"offset":0.6875,"color":"#222"},{"offset":0.6953,"color":"#fff"},{"offset":0.7031,"color":"#222"},{"offset":0.7109,"color":"#fff"},{"offset":0.7188,"color":"#222"},{"offset":0.7266,"color":"#fff"},{"offset":0.7344,"color":"#222"},{"offset":0.7422,"color":"#fff"},
{"offset":0.75,"color":"#222"},{"offset":0.7578,"color":"#fff"},{"offset":0.7656,"color":"#222"},{"offset":0.7734,"color":"#fff"},{"offset":0.7813,"color":"#222"},{"offset":0.7891,"color":"#fff"},{"offset":0.7969,"color":"#222"},{"offset":0.8047,"color":"#fff"},
{"offset":0.8125,"color":"#222"},{"offset":0.8203,"color":"#fff"},{"offset":0.8281,"color":"#222"},{"offset":0.8359,"color":"#fff"},{"offset":0.8438,"color":"#222"},{"offset":0.8516,"color":"#fff"},{"offset":0.8594,"color":"#222"},{"offset":0.8672,"color":"#fff"},
{"offset":0.875,"color":"#222"},{"offset":0.8828,"color":"#fff"},{"offset":0.8906,"color":"#222"},{"offset":0.8984,"color":"#fff"},{"offset":0.9063,"color":"#222"},{"offset":0.9141,"color":"#fff"},{"offset":0.9219,"color":"#222"},{"offset":0.9297,"color":"#fff"},
{"offset":0.9375,"color":"#222"},{"offset":0.9453,"color":"#fff"},{"offset":0.9531,"color":"#222"},{"offset":0.9609,"color":"#fff"},{"offset":0.9688,"color":"#222"},{"offset":0.9766,"color":"#fff"},{"offset":0.9844,"color":"#222"},{"offset":0.9922,"color":"#fff"},
{"offset":1,"color":"#222"}]}},
"encoding":{"x":{"field":"year","type":"nominal"},"y":{"field":"v","type":"quantitative"}}},
{"mark":{"type":"point","shape":"M-1,-0.39H1V0.39H-1Z","filled":true,"strokeWidth":0,"xOffset":17},
"encoding":{"x":{"field":"year","type":"nominal"},"y":{"field":"v","type":"quantitative","stack":"zero","bandPosition":0.5},"order":{"field":"k","type":"quantitative"},
"fill":{"field":"cat","type":"nominal","legend":null},"size":{"value":2401},
"opacity":{"condition":{"test":"indexof(['2018-3','2019-3','2021E-3','2022E-3','2023E-3','2020-4','2024E-4','2021E-5','2022E-5'], datum.year + '-' + datum.k) >= 0","value":1},"value":0}}},
{"mark":{"type":"text","font":"Liberation Sans","fontSize":18,"baseline":"middle","dx":17},
"encoding":{"x":{"field":"year","type":"nominal"},"y":{"field":"v","type":"quantitative","stack":"zero","bandPosition":0.5},"order":{"field":"k","type":"quantitative"},"detail":{"field":"cat"},
"text":{"field":"p","type":"quantitative","format":".1%"},
"color":{"condition":{"test":"datum.k === 2","value":"#fff"},"value":"#000"},
"opacity":{"condition":{"test":"indexof(['2018-3','2019-3','2021E-3','2022E-3','2023E-3','2020-4','2024E-4','2021E-5','2022E-5'], datum.year + '-' + datum.k) >= 0","value":1},"value":0}}},
{"mark":{"type":"point","shape":"M-1,-0.39H1V0.39H-1Z","filled":true,"strokeWidth":0,"xOffset":-17},
"encoding":{"x":{"field":"year","type":"nominal"},"y":{"field":"v","type":"quantitative","stack":"zero","bandPosition":0.5},"order":{"field":"k","type":"quantitative"},
"fill":{"field":"cat","type":"nominal","legend":null},"size":{"value":2401},
"opacity":{"condition":{"test":"indexof(['2018-2','2019-2','2020-2','2021E-2','2022E-2','2023E-2','2019-4','2021E-4','2022E-4','2023E-4','2024E-3','2020-5'], datum.year + '-' + datum.k) >= 0","value":1},"value":0}}},
{"mark":{"type":"text","font":"Liberation Sans","fontSize":18,"baseline":"middle","dx":-17},
"encoding":{"x":{"field":"year","type":"nominal"},"y":{"field":"v","type":"quantitative","stack":"zero","bandPosition":0.5},"order":{"field":"k","type":"quantitative"},"detail":{"field":"cat"},
"text":{"field":"p","type":"quantitative","format":".1%"},
"color":{"condition":{"test":"datum.k === 2","value":"#fff"},"value":"#000"},
"opacity":{"condition":{"test":"indexof(['2018-2','2019-2','2020-2','2021E-2','2022E-2','2023E-2','2019-4','2021E-4','2022E-4','2023E-4','2024E-3','2020-5'], datum.year + '-' + datum.k) >= 0","value":1},"value":0}}},
{"mark":{"type":"point","shape":"M-1,-0.39H1V0.39H-1Z","filled":true,"strokeWidth":0},
"encoding":{"x":{"field":"year","type":"nominal"},"y":{"field":"v","type":"quantitative","stack":"zero","bandPosition":0.5},"order":{"field":"k","type":"quantitative"},
"fill":{"condition":{"test":"datum.k === 1","value":"#fff"},"field":"cat","type":"nominal","legend":null},
"size":{"condition":{"test":"datum.k === 1","value":3364},"value":2401},
"opacity":{"condition":{"test":"indexof(['2018-3','2019-3','2021E-3','2022E-3','2023E-3','2020-4','2024E-4','2021E-5','2022E-5','2018-2','2019-2','2020-2','2021E-2','2022E-2','2023E-2','2019-4','2021E-4','2022E-4','2023E-4','2024E-3','2020-5','2016-3','2017-3','2020-3','2018-4','2019-5'], datum.year + '-' + datum.k) < 0","value":1},"value":0}}},
{"mark":{"type":"text","font":"Liberation Sans","fontSize":18,"baseline":"middle"},
"encoding":{"x":{"field":"year","type":"nominal"},"y":{"field":"v","type":"quantitative","stack":"zero","bandPosition":0.5},"order":{"field":"k","type":"quantitative"},"detail":{"field":"cat"},
"text":{"field":"p","type":"quantitative","format":".1%"},
"color":{"condition":{"test":"datum.k === 2","value":"#fff"},"value":"#000"},
"opacity":{"condition":{"test":"indexof(['2018-3','2019-3','2021E-3','2022E-3','2023E-3','2020-4','2024E-4','2021E-5','2022E-5','2018-2','2019-2','2020-2','2021E-2','2022E-2','2023E-2','2019-4','2021E-4','2022E-4','2023E-4','2024E-3','2020-5','2016-3','2017-3','2020-3','2018-4','2019-5'], datum.year + '-' + datum.k) < 0","value":1},"value":0}}},
{"mark":{"type":"point","shape":"M-1,-0.39H1V0.39H-1Z","filled":true,"strokeWidth":0,"xOffset":57,"fill":"#fff"},
"encoding":{"x":{"field":"year","type":"nominal"},"y":{"field":"v","type":"quantitative","stack":"zero","bandPosition":0.5},"order":{"field":"k","type":"quantitative"},"detail":{"field":"cat"},
"size":{"value":2401},
"opacity":{"condition":{"test":"indexof(['2016-3','2017-3','2020-3','2018-4','2019-5'], datum.year + '-' + datum.k) >= 0","value":1},"value":0}}},
{"mark":{"type":"text","font":"Liberation Sans","fontSize":18,"baseline":"middle","align":"left","dx":37,"color":"#000"},
"encoding":{"x":{"field":"year","type":"nominal"},"y":{"field":"v","type":"quantitative","stack":"zero","bandPosition":0.5},"order":{"field":"k","type":"quantitative"},"detail":{"field":"cat"},
"text":{"field":"p","type":"quantitative","format":".1%"},
"opacity":{"condition":{"test":"indexof(['2016-3','2017-3','2020-3','2018-4','2019-5'], datum.year + '-' + datum.k) >= 0","value":1},"value":0}}},
{"data":{"name":"totals"},
"mark":{"type":"text","font":"Liberation Sans","fontSize":18,"baseline":"alphabetic","dy":-10,"color":"#000"},
"encoding":{"x":{"field":"year","type":"nominal"},"y":{"field":"total","type":"quantitative"},"text":{"field":"total","type":"quantitative","format":".1f"}}}
]
}
]
}
